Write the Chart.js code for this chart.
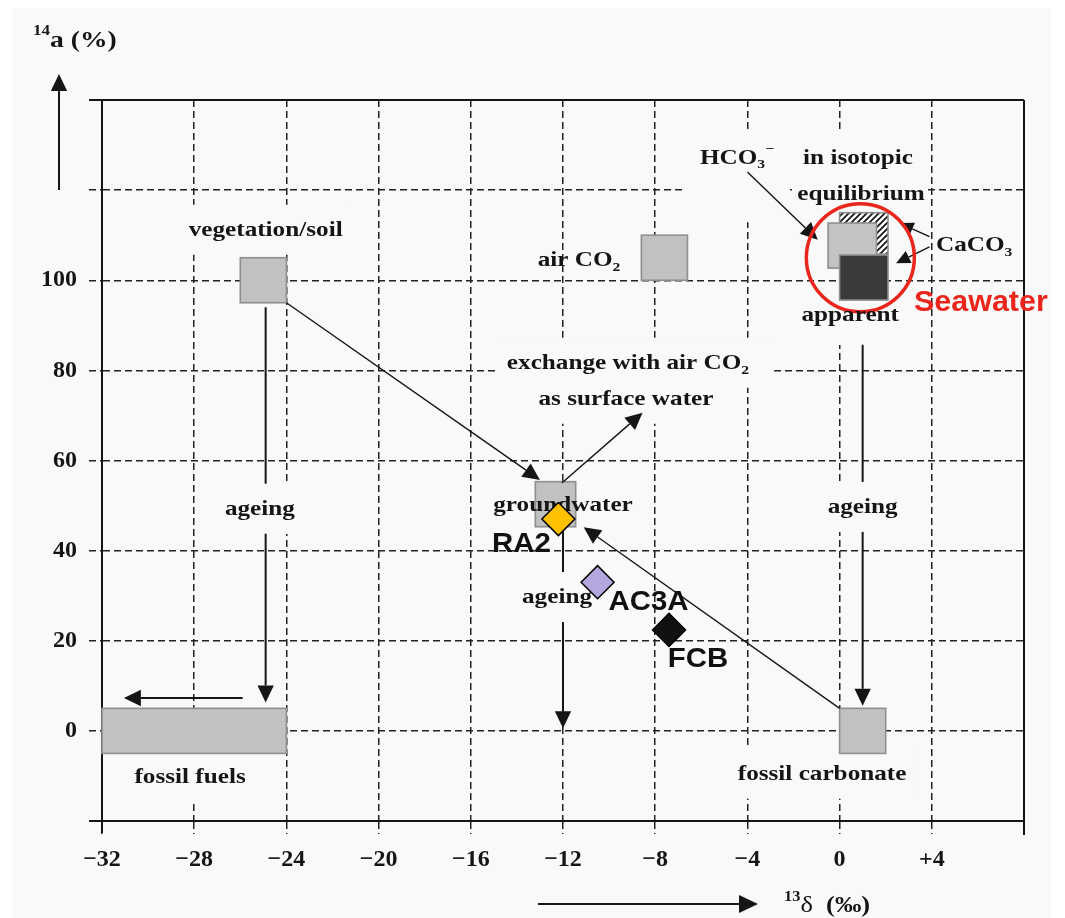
<!DOCTYPE html>
<html>
<head>
<meta charset="utf-8">
<script src="https://cdn.jsdelivr.net/npm/chart.js@4.4.1/dist/chart.umd.min.js"></script>
<style>
  html, body { margin: 0; padding: 0; background: #fff; }
  canvas { display: block; }
</style>
</head>
<body>
<canvas id="chart" width="1065" height="918"></canvas>
<script>
// carbon reservoirs: 13C delta range (permil) and 14C activity range (%)
var reservoirs = ['vegetation/soil', 'air CO2', 'groundwater', 'fossil fuels', 'fossil carbonate'];
var reservoirDelta = [[-26, -24], [-8.6, -6.6], [-13.2, -11.45], [-32, -24], [0, 2]];
var reservoirA14 = [[95, 105], [100, 110], [45.3, 55.3], [-5, 5], [-5, 5]];

// seawater carbonate system, back to front
var seaBoxes = ['CaCO3 equilibrium', 'HCO3-', 'CaCO3 apparent'];
var seaDelta = [[0, 2.1], [-0.5, 1.6], [0, 2.1]];
var seaA14 = [[105.8, 115], [102.7, 112.7], [95.6, 105.6]];

// measured samples
var samples = ['RA2', 'AC3A', 'FCB'];
var sampleDelta = [-12.2, -10.5, -7.4];
var sampleA14 = [47, 33, 22.4];
var sampleColors = ['#ffc000', '#b4a6de', '#111111'];

// process arrows, start and tip as (delta, a14)
var arrowFrom = [[-24, 95], [-12.05, 55], [0, 5], [-24.9, 94], [-25.9, 7.3], [-12, 45.3], [1, 85.7], [-4.0, 124], [3.9, 109.7], [3.9, 107.4]];
var arrowTo = [[-13.0, 55.7], [-8.55, 70.6], [-11.1, 45.2], [-24.9, 6.3], [-31.05, 7.3], [-12, 0.6], [1, 5.6], [-0.95, 109], [2.6, 112.7], [2.45, 103.8]];

// tick labels, one per grid line
var xTickLabels = ['\u221232', '\u221228', '\u221224', '\u221220', '\u221216', '\u221212', '\u22128', '\u22124', '0', '+4', ''];
var yTickLabels = ['', '0', '20', '40', '60', '80', '100', '', ''];

var SERIF = '"Liberation Serif", "Times New Roman", serif';
var SANS = '"Liberation Sans", Arial, sans-serif';
var ink = '#151515';
var paper = '#f9f9f9';
var red = '#ea261c';

// text notes placed at (delta, a14)
var notes = [
  {t: ['vegetation/soil'], d: -24.9, a: 111.2, mask: 1},
  {t: ['air CO', {t: '2', sub: 1}], d: -13.1, a: 104.5, align: 'left'},
  {t: ['HCO', {t: '3', sub: 1}, {t: '\u2212', sup: 1}], d: -6.06, a: 127.3, align: 'left', mask: 1, pad: [17, 25, 16, 65]},
  {t: ['in isotopic'], d: 0.8, a: 127.3, mask: 1},
  {t: ['equilibrium'], d: 0.93, a: 119.3, mask: 1, pad: [4, 25, 3, 25]},
  {t: ['CaCO', {t: '3', sub: 1}], d: 4.18, a: 107.8, align: 'left'},
  {t: ['apparent'], d: 0.46, a: 92.3, mask: 1, pad: [6, 25, 6, 30]},
  {t: ['exchange with air CO', {t: '2', sub: 1}], d: -9.18, a: 81.7, mask: 1, pad: [8, 25, 25, 25]},
  {t: ['as surface water'], d: -9.27, a: 73.7, mask: 1},
  {t: ['groundwater'], d: -12.0, a: 50.2},
  {t: ['ageing'], d: -12.26, a: 29.7, mask: 1, cut: 1},
  {t: ['ageing'], d: -25.15, a: 49.3, mask: 1, cut: 1},
  {t: ['ageing'], d: 1.0, a: 49.7, mask: 1, cut: 1},
  {t: ['fossil fuels'], d: -28.18, a: -10.2, mask: 1},
  {t: ['fossil carbonate'], d: -0.76, a: -9.5, mask: 1},
  {t: ['Seawater'], d: 3.23, a: 95.6, align: 'left', sans: 1, color: red}
];

// sample label offsets from the marker centre, px
var labelShift = [[-37, 23], [51, 18], [29, 27]];

/*
 * lay out a run of text with optional sub/superscripts
 * returns segments and total width (after horizontal stretch)
 */
function layoutRun(ctx, parts, o) {
  var segs = [], total = 0;
  ctx.save();
  parts.forEach(function (p) {
    if (typeof p === 'string') p = {t: p};
    var small = p.sub || p.sup;
    var size = small ? o.size * 0.62 : o.size;
    var font = (p.weight || o.weight || 'bold') + ' ' + size + 'px ' + o.family;
    ctx.font = font;
    var w = ctx.measureText(p.t).width;
    segs.push({t: p.t, font: font, w: w, dy: p.sub ? o.size * 0.22 : (p.sup ? -o.size * 0.5 : 0)});
    total += w;
  });
  ctx.restore();
  return {segs: segs, raw: total, width: total * (o.stretch || 1)};
}

function drawRun(ctx, run, left, baseline, o) {
  ctx.save();
  ctx.translate(left, baseline);
  ctx.scale(o.stretch || 1, 1);
  ctx.fillStyle = o.color || ink;
  ctx.textAlign = 'left';
  ctx.textBaseline = 'alphabetic';
  var cx = 0;
  run.segs.forEach(function (s) {
    ctx.font = s.font;
    ctx.fillText(s.t, cx, s.dy);
    cx += s.w;
  });
  ctx.restore();
}

function arrow(ctx, x1, y1, x2, y2, lw, head) {
  var ang = Math.atan2(y2 - y1, x2 - x1);
  var bx = x2 - Math.cos(ang) * head, by = y2 - Math.sin(ang) * head;
  ctx.save();
  ctx.strokeStyle = ink;
  ctx.fillStyle = ink;
  ctx.lineWidth = lw;
  ctx.beginPath();
  ctx.moveTo(x1, y1);
  ctx.lineTo(bx, by);
  ctx.stroke();
  var hw = head * 0.48;
  ctx.beginPath();
  ctx.moveTo(x2, y2);
  ctx.lineTo(bx + Math.sin(ang) * hw, by - Math.cos(ang) * hw);
  ctx.lineTo(bx - Math.sin(ang) * hw, by + Math.cos(ang) * hw);
  ctx.closePath();
  ctx.fill();
  ctx.restore();
}

function hatch(ctx) {
  var c = document.createElement('canvas');
  c.width = c.height = 6;
  var g = c.getContext('2d');
  g.fillStyle = '#fff';
  g.fillRect(0, 0, 6, 6);
  g.strokeStyle = '#111';
  g.lineWidth = 1.7;
  g.beginPath();
  g.moveTo(-1, 7); g.lineTo(7, -1);
  g.moveTo(-1, 1); g.lineTo(1, -1);
  g.moveTo(5, 7); g.lineTo(7, 5);
  g.stroke();
  return ctx.createPattern(c, 'repeat');
}

function noteStyle(n) {
  return n.sans
    ? {size: 29, family: SANS, stretch: 1.05, color: n.color}
    : {size: 21, family: SERIF, stretch: 1.2, color: n.color};
}

var diagram = {
  id: 'diagram',
  beforeDraw: function (chart) {
    var ctx = chart.ctx;
    ctx.save();
    ctx.fillStyle = '#fff';
    ctx.fillRect(0, 0, chart.width, chart.height);
    ctx.fillStyle = paper;
    ctx.fillRect(12, 8, 1039, 910);
    ctx.restore();
  },
  beforeDatasetsDraw: function (chart) {
    var ctx = chart.ctx, area = chart.chartArea;
    var X = function (v) { return chart.scales.x.getPixelForValue(v); };
    var Y = function (v) { return chart.scales.y.getPixelForValue(v); };

    // solid frame on top and right, plus the corner extensions
    ctx.save();
    ctx.strokeStyle = ink;
    ctx.lineWidth = 2;
    ctx.beginPath();
    ctx.moveTo(area.left - 13, area.top); ctx.lineTo(area.right, area.top);
    ctx.moveTo(area.right, area.top); ctx.lineTo(area.right, area.bottom + 14);
    ctx.moveTo(area.left - 13, area.bottom); ctx.lineTo(area.left, area.bottom);
    ctx.moveTo(area.left, area.bottom); ctx.lineTo(area.left, area.bottom + 12);
    ctx.stroke();
    ctx.restore();

    // measure notes and blank out the grid behind them
    var placed = notes.map(function (n) {
      var o = noteStyle(n);
      var run = layoutRun(ctx, n.t, o);
      var cx = X(n.d), cy = Y(n.a);
      var left = n.align === 'left' ? cx : cx - run.width / 2;
      var pad = n.pad || [6, 25, 6, 25];
      return {n: n, o: o, run: run, left: left, cy: cy,
        box: [left - pad[0], cy - pad[1], run.width + pad[0] + pad[2], pad[1] + pad[3]]};
    });
    var blank = function (p) {
      ctx.save();
      ctx.fillStyle = paper;
      ctx.fillRect(p.box[0], p.box[1], p.box[2], p.box[3]);
      ctx.restore();
    };
    placed.forEach(function (p) { if (p.n.mask) blank(p); });

    // reservoir boxes
    var box = function (d, a, fill, stroke) {
      var x1 = X(d[0]), x2 = X(d[1]), y1 = Y(a[1]), y2 = Y(a[0]);
      ctx.save();
      ctx.fillStyle = fill;
      ctx.fillRect(x1, y1, x2 - x1, y2 - y1);
      ctx.strokeStyle = stroke;
      ctx.lineWidth = 1.6;
      ctx.strokeRect(x1, y1, x2 - x1, y2 - y1);
      ctx.restore();
    };
    reservoirs.forEach(function (r, i) {
      box(reservoirDelta[i], reservoirA14[i], '#c1c1c1', '#8f8f8f');
    });
    var seaFill = [hatch(ctx), '#c3c3c3', '#3a3a3a'];
    seaBoxes.forEach(function (s, i) {
      box(seaDelta[i], seaA14[i], seaFill[i], '#8f8f8f');
    });

    // process arrows
    arrowFrom.forEach(function (f, i) {
      var t = arrowTo[i];
      var straight = f[0] === t[0] || f[1] === t[1];
      var small = i >= 8;
      arrow(ctx, X(f[0]), Y(f[1]), X(t[0]), Y(t[1]), straight ? 2 : 1.4, small ? 14 : 17);
    });

    // text breaks the ageing arrows
    placed.forEach(function (p) { if (p.n.cut) blank(p); });

    // seawater ring
    ctx.save();
    ctx.strokeStyle = red;
    ctx.lineWidth = 3.5;
    ctx.beginPath();
    ctx.arc(X(0.9), Y(105), 54, 0, Math.PI * 2);
    ctx.stroke();
    ctx.restore();

    placed.forEach(function (p) {
      drawRun(ctx, p.run, p.left, p.cy + p.o.size * (p.n.sans ? 0.36 : 0.3), p.o);
    });
  },
  afterDatasetsDraw: function (chart) {
    var ctx = chart.ctx;
    var o = {size: 28, family: SANS, stretch: 1.05, color: '#111'};
    samples.forEach(function (s, i) {
      var run = layoutRun(ctx, [s], o);
      var cx = chart.scales.x.getPixelForValue(sampleDelta[i]) + labelShift[i][0];
      var cy = chart.scales.y.getPixelForValue(sampleA14[i]) + labelShift[i][1];
      drawRun(ctx, run, cx - run.width / 2, cy + 10, o);
    });
  },
  afterDraw: function (chart) {
    var ctx = chart.ctx;
    // axis titles with direction arrows
    arrow(ctx, 59, 190, 59, 74, 2, 17);
    var yo = {size: 24, family: SERIF, stretch: 1.15};
    drawRun(ctx, layoutRun(ctx, [{t: '14', sup: 1}, 'a (%)'], yo), 33, 47, yo);
    arrow(ctx, 538, 904, 758, 904, 2, 19);
    var xo = {size: 23, family: SERIF, stretch: 1.15};
    drawRun(ctx, layoutRun(ctx, [{t: '13', sup: 1}, {t: '\u03b4', weight: 'normal'}, '  (\u2030)'], xo), 784, 912, xo);
  }
};

var chart = new Chart('chart', {
  type: 'scatter',
  data: {
    datasets: [{
      label: 'samples',
      data: samples.map(function (s, i) { return {x: sampleDelta[i], y: sampleA14[i]}; }),
      pointStyle: 'rectRot',
      pointRadius: 16.5,
      pointBackgroundColor: sampleColors,
      pointBorderColor: '#000',
      pointBorderWidth: 1.5
    }]
  },
  options: {
    responsive: false,
    animation: false,
    events: [],
    devicePixelRatio: 1,
    layout: {padding: {top: 100, right: 41, left: 0, bottom: 0}},
    plugins: {legend: {display: false}, tooltip: {enabled: false}},
    scales: {
      x: {
        type: 'linear',
        min: -32, max: 8,
        afterFit: function (scale) { scale.height = 97; },
        ticks: {
          stepSize: 4, autoSkip: false, maxRotation: 0, padding: 11,
          color: ink,
          font: {family: SERIF, weight: 'bold', size: 24},
          callback: function (v, i) { return xTickLabels[i]; }
        },
        grid: {color: '#222', lineWidth: 1.5, tickLength: 13, tickColor: '#222', tickWidth: 1.5, tickBorderDash: [7, 4]},
        border: {display: true, color: ink, width: 2, dash: [7, 4]}
      },
      y: {
        type: 'linear',
        min: -20, max: 140,
        afterFit: function (scale) { scale.width = 102; },
        ticks: {
          stepSize: 20, padding: 12,
          color: ink,
          font: {family: SERIF, weight: 'bold', size: 24},
          callback: function (v, i) { return yTickLabels[i]; }
        },
        grid: {color: '#222', lineWidth: 1.5, tickLength: 13, tickColor: '#222', tickWidth: 1.5, tickBorderDash: [7, 4]},
        border: {display: true, color: ink, width: 2, dash: [7, 4]}
      }
    }
  },
  plugins: [diagram]
});
</script>
</body>
</html>
